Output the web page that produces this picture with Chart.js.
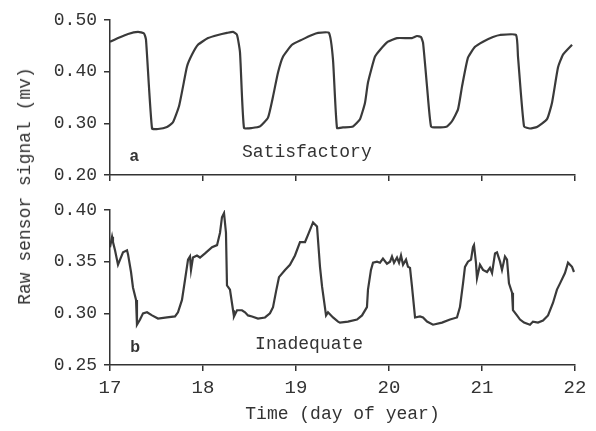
<!DOCTYPE html>
<html>
<head>
<meta charset="utf-8">
<script src="https://cdn.jsdelivr.net/npm/chart.js@4.4.1/dist/chart.umd.min.js"></script>
<style>
  html, body { margin: 0; padding: 0; background: #fff; }
  #wrap { position: relative; width: 596px; height: 431px; }
  .layer { position: absolute; left: 0; top: 0; width: 596px; height: 431px; }
  #ytitle {
    position: absolute; left: 25px; top: 186px;
    transform: translate(-50%, -50%) rotate(-90deg);
    white-space: nowrap;
    font: 18px 'Liberation Mono', 'DejaVu Sans Mono', monospace;
    color: #333;
  }
</style>
</head>
<body>
<div id="wrap">
  <div class="layer"><canvas id="chart-a"></canvas></div>
  <div class="layer"><canvas id="chart-b"></canvas></div>
  <div id="ytitle">Raw sensor signal (mv)</div>
</div>
<script>
// panel a: satisfactory sensor
const dayA = [17.000, 17.086, 17.194, 17.301, 17.366, 17.387, 17.452, 17.516, 17.613, 17.677,
  17.742, 17.785, 17.828, 17.882, 17.946, 18.054, 18.161, 18.258, 18.323, 18.366,
  18.398, 18.441, 18.527, 18.613, 18.699, 18.753, 18.806, 18.860, 18.957, 19.065,
  19.172, 19.237, 19.355, 19.398, 19.441, 19.505, 19.613, 19.688, 19.742, 19.774,
  19.849, 19.903, 19.989, 20.086, 20.247, 20.301, 20.344, 20.366, 20.409, 20.452,
  20.516, 20.624, 20.677, 20.742, 20.785, 20.849, 20.925, 21.011, 21.118, 21.194,
  21.366, 21.387, 21.452, 21.516, 21.591, 21.699, 21.753, 21.817, 21.871, 21.968];
const signalA = [0.458, 0.465, 0.473, 0.477, 0.474, 0.462, 0.290, 0.289, 0.293, 0.302,
  0.333, 0.371, 0.410, 0.433, 0.452, 0.465, 0.471, 0.475, 0.477, 0.471,
  0.437, 0.291, 0.291, 0.294, 0.311, 0.352, 0.398, 0.429, 0.452, 0.462,
  0.471, 0.475, 0.475, 0.423, 0.291, 0.292, 0.294, 0.308, 0.340, 0.379,
  0.429, 0.442, 0.458, 0.465, 0.465, 0.469, 0.467, 0.456, 0.371, 0.294,
  0.292, 0.294, 0.304, 0.327, 0.371, 0.427, 0.448, 0.458, 0.467, 0.471,
  0.471, 0.429, 0.294, 0.290, 0.293, 0.308, 0.340, 0.408, 0.433, 0.452];

// panel b: inadequate sensor
const dayB = [17.000, 17.022, 17.032, 17.054, 17.086, 17.108, 17.140, 17.183, 17.194, 17.226,
  17.247, 17.280, 17.290, 17.323, 17.355, 17.398, 17.452, 17.516, 17.613, 17.699,
  17.731, 17.774, 17.806, 17.839, 17.860, 17.871, 17.892, 17.935, 17.968, 18.022,
  18.097, 18.151, 18.183, 18.204, 18.226, 18.247, 18.258, 18.290, 18.323, 18.333,
  18.366, 18.419, 18.452, 18.484, 18.527, 18.591, 18.667, 18.720, 18.753, 18.785,
  18.817, 18.882, 18.935, 18.989, 19.043, 19.097, 19.129, 19.183, 19.226, 19.258,
  19.280, 19.323, 19.344, 19.398, 19.452, 19.473, 19.559, 19.656, 19.710, 19.763,
  19.774, 19.806, 19.828, 19.871, 19.903, 19.935, 19.978, 20.011, 20.032, 20.054,
  20.086, 20.108, 20.129, 20.151, 20.183, 20.204, 20.226, 20.247, 20.280, 20.333,
  20.366, 20.409, 20.473, 20.570, 20.656, 20.731, 20.763, 20.796, 20.817, 20.849,
  20.882, 20.903, 20.914, 20.935, 20.946, 20.978, 21.011, 21.054, 21.086, 21.108,
  21.140, 21.161, 21.194, 21.215, 21.247, 21.269, 21.290, 21.323, 21.333, 21.376,
  21.409, 21.452, 21.516, 21.548, 21.602, 21.656, 21.710, 21.763, 21.806, 21.839,
  21.892, 21.925, 21.968, 21.989];
const signalB = [0.364, 0.374, 0.369, 0.361, 0.347, 0.352, 0.359, 0.361, 0.357, 0.340,
  0.325, 0.313, 0.289, 0.294, 0.300, 0.301, 0.298, 0.295, 0.296, 0.297,
  0.301, 0.313, 0.332, 0.352, 0.355, 0.342, 0.354, 0.356, 0.354, 0.358,
  0.364, 0.366, 0.378, 0.393, 0.397, 0.378, 0.327, 0.323, 0.303, 0.297,
  0.303, 0.303, 0.301, 0.298, 0.297, 0.295, 0.296, 0.300, 0.306, 0.321,
  0.335, 0.342, 0.347, 0.356, 0.369, 0.369, 0.376, 0.388, 0.384, 0.345,
  0.326, 0.298, 0.301, 0.296, 0.292, 0.291, 0.292, 0.294, 0.298, 0.306,
  0.323, 0.342, 0.349, 0.350, 0.349, 0.353, 0.348, 0.350, 0.355, 0.349,
  0.354, 0.349, 0.356, 0.347, 0.352, 0.345, 0.344, 0.326, 0.296, 0.297,
  0.296, 0.292, 0.289, 0.291, 0.294, 0.296, 0.306, 0.329, 0.345, 0.350,
  0.352, 0.364, 0.366, 0.349, 0.334, 0.347, 0.342, 0.340, 0.344, 0.339,
  0.358, 0.359, 0.350, 0.342, 0.355, 0.352, 0.329, 0.320, 0.303, 0.298,
  0.294, 0.291, 0.289, 0.292, 0.291, 0.293, 0.298, 0.310, 0.323, 0.329,
  0.339, 0.349, 0.345, 0.340];

const ticksA = [0.20, 0.30, 0.40, 0.50];
const ticksB = [0.25, 0.30, 0.35, 0.40];
const dayTicks = [17, 18, 19, 20, 21, 22];

const INK = '#333';
const MONO = "'Liberation Mono', 'DejaVu Sans Mono', monospace";

// text labels placed in data coordinates
const panelLabels = {
  id: 'panelLabels',
  afterDatasetsDraw(chart, args, opts) {
    const { ctx, scales: { x, y } } = chart;
    (opts.items || []).forEach(it => {
      ctx.save();
      ctx.font = it.font;
      ctx.fillStyle = INK;
      ctx.textAlign = it.align || 'left';
      ctx.textBaseline = 'middle';
      ctx.fillText(it.text, x.getPixelForValue(it.x), y.getPixelForValue(it.y));
      ctx.restore();
    });
  }
};

function pts(xs, ys) {
  return xs.map((d, i) => ({ x: d, y: ys[i] }));
}

function makeChart(id, data, yTicks, opts) {
  const yMin = yTicks[0], yMax = yTicks[yTicks.length - 1];
  return new Chart(document.getElementById(id), {
    type: 'line',
    data: {
      datasets: [{
        data: data,
        borderColor: '#3a3a3a',
        borderWidth: 2.2,
        pointRadius: 0,
        tension: opts.tension,
        fill: false
      }]
    },
    options: {
      responsive: true,
      maintainAspectRatio: false,
      animation: false,
      layout: { padding: opts.padding },
      plugins: {
        legend: { display: false },
        tooltip: { enabled: false },
        panelLabels: { items: opts.labels }
      },
      scales: {
        x: {
          type: 'linear', min: 17, max: 22,
          afterBuildTicks: s => { s.ticks = dayTicks.map(v => ({ value: v })); },
          afterFit: s => { s.height = opts.xHeight; },
          grid: { drawOnChartArea: false, drawTicks: true, tickLength: 6, color: INK, lineWidth: 1.5 },
          border: { color: INK, width: 1.5 },
          ticks: { display: opts.showX, color: INK, padding: 6, font: { family: MONO, size: 19 }, maxRotation: 0 },
          title: {
            display: opts.showX, text: 'Time (day of year)', color: INK,
            font: { family: MONO, size: 18 }, padding: { top: 2, bottom: 6 }
          }
        },
        y: {
          min: yMin, max: yMax,
          afterBuildTicks: s => { s.ticks = yTicks.map(v => ({ value: v })); },
          afterFit: s => { s.width = 110; },
          grid: { drawOnChartArea: false, drawTicks: true, tickLength: 6, color: INK, lineWidth: 1.5 },
          border: { color: INK, width: 1.5 },
          ticks: { color: INK, padding: 7, font: { family: MONO, size: 18 }, callback: v => v.toFixed(2) }
        }
      }
    },
    plugins: [panelLabels]
  });
}

makeChart('chart-a', pts(dayA, signalA), ticksA, {
  tension: 0.15,
  padding: { left: 0, right: 21, top: 20, bottom: 246 },
  xHeight: 10,
  showX: false,
  labels: [
    { text: 'a', x: 17.26, y: 0.2365, align: 'center', font: "bold 16px 'Liberation Sans', sans-serif" },
    { text: 'Satisfactory', x: 18.42, y: 0.244, align: 'left', font: '18px ' + MONO }
  ]
});

makeChart('chart-b', pts(dayB, signalB), ticksB, {
  tension: 0,
  padding: { left: 0, right: 21, top: 210, bottom: 0 },
  xHeight: 66,
  showX: true,
  labels: [
    { text: 'b', x: 17.27, y: 0.2665, align: 'center', font: "bold 16px 'Liberation Sans', sans-serif" },
    { text: 'Inadequate', x: 18.56, y: 0.270, align: 'left', font: '18px ' + MONO }
  ]
});
</script>
</body>
</html>
